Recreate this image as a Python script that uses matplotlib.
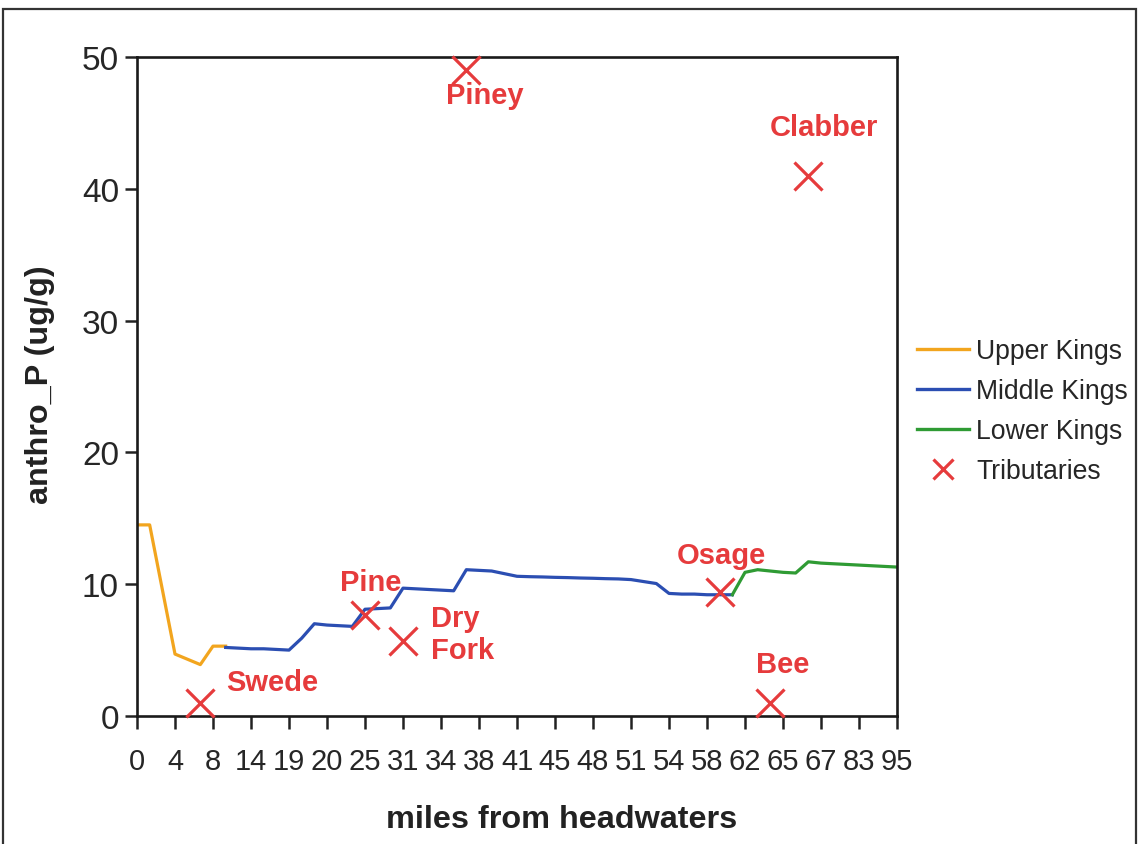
import numpy as np
import matplotlib
matplotlib.use("Agg")
import matplotlib.pyplot as plt
from matplotlib.lines import Line2D
from matplotlib.patches import Rectangle

plt.rcParams['font.family'] = ['Liberation Sans', 'DejaVu Sans']

# Category axis: 61 sampling stations, every third one labelled with its river mile
tick_labels = [0, 4, 8, 14, 19, 20, 25, 31, 34, 38, 41, 45, 48, 51, 54, 58, 62, 65, 67, 83, 95]
n_categories = 61
label_every = 3

# Main-stem segments (first station index + values)
upper_start = 0
upper_kings = [14.5, 14.5, 9.6, 4.7, 4.3, 3.9, 5.3, 5.3]

middle_start = 7
middle_kings = [5.2, 5.15, 5.1, 5.1, 5.05, 5.0, 5.9, 7.0, 6.9, 6.85, 6.8,
                8.1, 8.15, 8.2, 9.7, 9.65, 9.6, 9.55, 9.5, 11.1, 11.05, 11.0,
                10.8, 10.6, 10.57, 10.55, 10.52, 10.5, 10.47, 10.45, 10.42,
                10.4, 10.35, 10.2, 10.05, 9.3, 9.25, 9.25, 9.2, 9.2, 9.2]

lower_start = 47
lower_kings = [9.2, 10.9, 11.1, 11.0, 10.9, 10.85, 11.7, 11.6, 11.55, 11.5,
               11.45, 11.4, 11.35, 11.3]

# Tributaries: name, station index, value
trib_names = ["Swede", "Pine", "Dry\nFork", "Piney", "Osage", "Bee", "Clabber"]
trib_station = [5, 18, 21, 26, 46, 50, 53]
trib_values = [1.0, 7.7, 5.7, 49.0, 9.4, 1.0, 41.0]
# label offsets from each marker (pixels) and horizontal alignment
trib_offsets = [(72, 21), (6, 33), (28, 7), (18, -25), (2, 37), (12, 39), (16, 49)]
trib_ha = ["center", "center", "left", "center", "center", "center", "center"]

c_upper = "#F2A51E"
c_middle = "#2B4EB2"
c_lower = "#2F9B34"
c_trib = "#E63B3C"
c_text = "#262626"

W, H = 1139, 845
fig = plt.figure(figsize=(W / 100, H / 100), dpi=100)
ax = fig.add_axes([137 / W, 1 - 717 / H, (897 - 137) / W, (717 - 58) / H])

ax.plot(np.arange(upper_start, upper_start + len(upper_kings)), upper_kings,
        color=c_upper, lw=2.3, label="Upper Kings", solid_joinstyle='round')
ax.plot(np.arange(middle_start, middle_start + len(middle_kings)), middle_kings,
        color=c_middle, lw=2.3, label="Middle Kings", solid_joinstyle='round')
ax.plot(np.arange(lower_start, lower_start + len(lower_kings)), lower_kings,
        color=c_lower, lw=2.3, label="Lower Kings", solid_joinstyle='round')
ax.plot(trib_station, trib_values, ls='none', marker='x', ms=20, mew=2.3,
        color=c_trib, label="Tributaries", clip_on=False, zorder=5)

for name, xs, ys, off, ha in zip(trib_names, trib_station, trib_values, trib_offsets, trib_ha):
    ax.annotate(name, (xs, ys), xytext=off, textcoords='offset pixels',
                ha=ha, va='center', color=c_trib, fontsize=21, fontweight='bold',
                linespacing=1.2, annotation_clip=False, zorder=6)

ax.set_xlim(0, n_categories - 1)
ax.set_ylim(0, 50)
ax.set_xticks(np.arange(0, n_categories, label_every))
ax.set_xticklabels([str(v) for v in tick_labels])
ax.set_yticks([0, 10, 20, 30, 40, 50])

ax.tick_params(axis='x', direction='out', length=9, width=1.8, pad=13,
               labelsize=21, labelcolor=c_text, color='#222222')
ax.tick_params(axis='y', direction='out', length=9, width=1.8, pad=4,
               labelsize=24, labelcolor=c_text, color='#222222')
for sp in ax.spines.values():
    sp.set_linewidth(1.9)
    sp.set_color('#1a1a1a')

fig.text(562 / W, 1 - 820 / H, "miles from headwaters", ha='center', va='center',
         fontsize=23.3, fontweight='bold', color='#222222')
fig.text(40 / W, 1 - 385 / H, "anthro_P (ug/g)", ha='center', va='center',
         rotation=90, fontsize=23.3, fontweight='bold', color='#222222')

handles = [Line2D([], [], color=c_upper, lw=2.4),
           Line2D([], [], color=c_middle, lw=2.4),
           Line2D([], [], color=c_lower, lw=2.4),
           Line2D([], [], color=c_trib, ls='none', marker='x', ms=14, mew=2.3)]
fig.legend(handles, ["Upper Kings", "Middle Kings", "Lower Kings", "Tributaries"],
           loc='upper left', bbox_to_anchor=(917 / W, 1 - 339 / H),
           frameon=False, fontsize=19.2, labelspacing=0.53, handlelength=1.95,
           handletextpad=0.28, borderpad=0, borderaxespad=0, labelcolor=c_text)

fig.patches.append(Rectangle((3 / W, -0.05), (1136 - 3) / W, 1 - 10 / H + 0.05,
                             transform=fig.transFigure, fill=False,
                             edgecolor='#333333', lw=1.6))

fig.savefig("out.png", dpi=100)
